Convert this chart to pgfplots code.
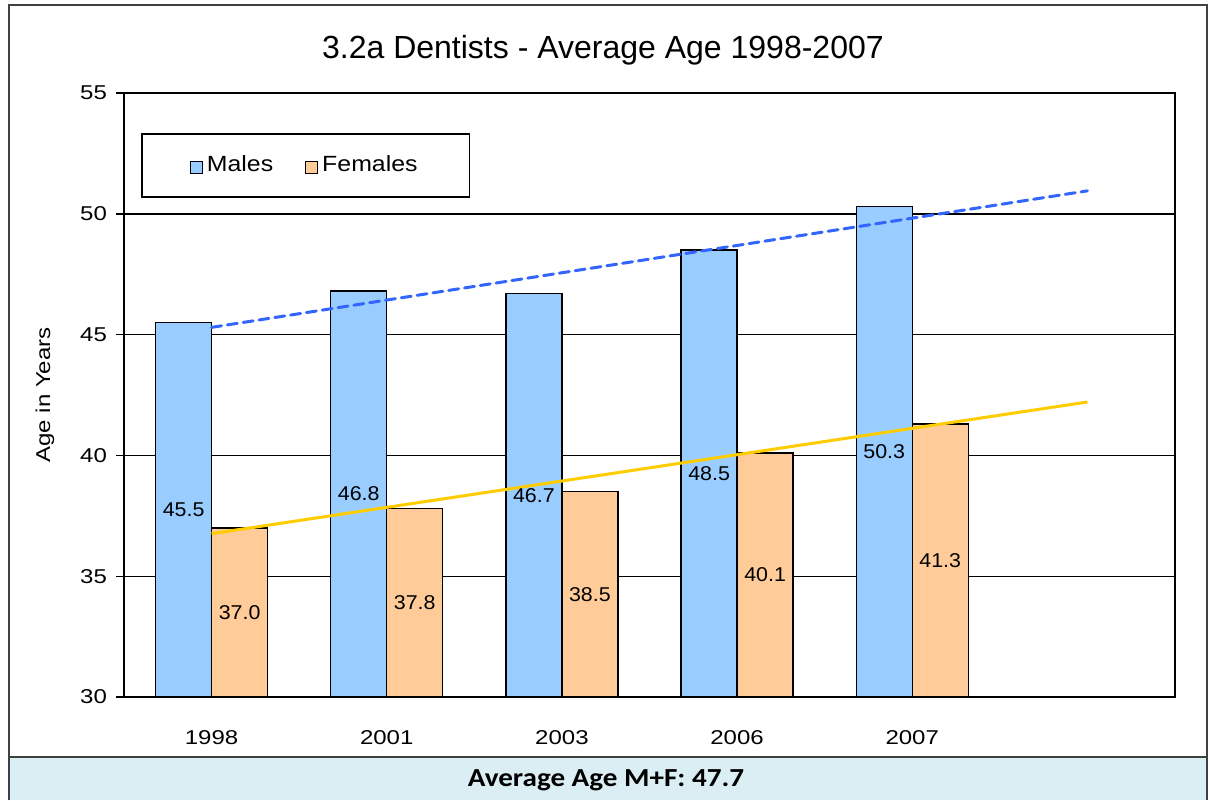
\documentclass[border=0pt]{standalone}
\usepackage{fontspec}
\setmainfont[FakeStretch=1.2]{Liberation Sans}
\newfontfamily\plainfont{Liberation Sans}
\newfontfamily\labelfont[FakeStretch=1.07]{Liberation Sans}
\newfontfamily\legendfont[FakeStretch=1.13]{Liberation Sans}
\newfontfamily\calibri[FakeStretch=1.12]{Carlito}
\usepackage{pgfplots}
\pgfplotsset{compat=1.18}

\definecolor{maleblue}{HTML}{99CCFF}
\definecolor{femalepeach}{HTML}{FFCC99}
\definecolor{trendblue}{HTML}{3366FF}
\definecolor{trendgold}{HTML}{FFCC00}
\definecolor{footfill}{HTML}{DAEEF3}
\definecolor{framegray}{HTML}{404040}

\newcommand{\TickFont}{\fontsize{10pt}{12pt}\selectfont}
\newcommand{\ValueFont}{\labelfont\fontsize{10pt}{12pt}\selectfont}

\begin{document}
\begin{tikzpicture}
\path[use as bounding box] (0,0) rectangle (604pt,400pt);
\draw[framegray, line width=0.7pt] (4.5pt,21.5pt) rectangle (603.5pt,397.5pt);
\fill[footfill] (4pt,0pt) rectangle (604pt,21.5pt);
\draw[framegray, line width=0.7pt] (4.5pt,0pt) -- (4.5pt,21.5pt) -- (603.5pt,21.5pt) -- (603.5pt,0pt);
\node at (303pt,10pt) {\calibri\bfseries\fontsize{13pt}{15pt}\selectfont Average Age M+F: 47.7};

\begin{axis}[
  at={(62pt,51.5pt)}, anchor=south west,
  scale only axis, width=525.5pt, height=302pt,
  xmin=-0.5, xmax=5.5, ymin=30, ymax=55,
  xtick={0,1,2,3,4}, xticklabels={1998,2001,2003,2006,2007},
  ytick={30,35,40,45,50,55},
  ytick pos=left, xtick pos=bottom,
  ymajorgrids, grid style={black, line width=0.7pt},
  axis line style={black, line width=0.9pt},
  x tick style={draw=none},
  y tick style={black, line width=0.7pt},
  tick align=outside, major tick length=4pt,
  /pgf/number format/assume math mode=true,
  tick label style={font=\TickFont, text=black},
  xticklabel style={yshift=-9pt},
  yticklabel style={xshift=-1pt},
  title={3.2a Dentists - Average Age 1998-2007},
  title style={at={(0.4557,1.051)}, anchor=center, font=\plainfont\fontsize{16pt}{19pt}\selectfont},
  ylabel={Age in Years},
  ylabel style={at={(axis description cs:-0.0752,0.5)}, anchor=center, font=\TickFont},
  legend columns=2,
  legend cell align=left,
  legend style={at={(0.0162,0.9338)}, anchor=north west, draw=black, line width=0.9pt,
    font=\legendfont\fontsize{11pt}{13pt}\selectfont, inner xsep=24pt, inner ysep=9pt,
    /tikz/every even column/.append style={column sep=14pt}},
]
\addplot[ybar, bar width=28pt, bar shift=-14pt, fill=maleblue, draw=black, line width=0.7pt,
  legend image code/.code={\draw[fill=maleblue, draw=black, line width=0.5pt] (0pt,-4pt) rectangle (6pt,2pt);},
  visualization depends on={y \as \rawy},
  nodes near coords={\pgfmathprintnumber[fixed,precision=1,zerofill]{\pgfplotspointmeta}},
  every node near coord/.append style={anchor=center, text=black, font=\ValueFont,
    xshift=-14pt, yshift={-(\rawy-30)*6.04pt}}]
  coordinates {(0,45.5) (1,46.8) (2,46.7) (3,48.5) (4,50.3)};
\addlegendentry{Males}
\addplot[ybar, bar width=28pt, bar shift=14pt, fill=femalepeach, draw=black, line width=0.7pt,
  legend image code/.code={\draw[fill=femalepeach, draw=black, line width=0.5pt] (0pt,-4pt) rectangle (6pt,2pt);},
  visualization depends on={y \as \rawy},
  nodes near coords={\pgfmathprintnumber[fixed,precision=1,zerofill]{\pgfplotspointmeta}},
  every node near coord/.append style={anchor=center, text=black, font=\ValueFont,
    xshift=14pt, yshift={-(\rawy-30)*6.04pt}}]
  coordinates {(0,37.0) (1,37.8) (2,38.5) (3,40.1) (4,41.3)};
\addlegendentry{Females}
% linear trend lines
\addplot[forget plot, trendblue, line width=1.5pt, dash pattern=on 5pt off 3pt, line cap=round]
  coordinates {(0,45.30) (5,50.95)};
\addplot[forget plot, trendgold, line width=1.5pt]
  coordinates {(0,36.76) (5,42.21)};
\end{axis}
\end{tikzpicture}
\end{document}
